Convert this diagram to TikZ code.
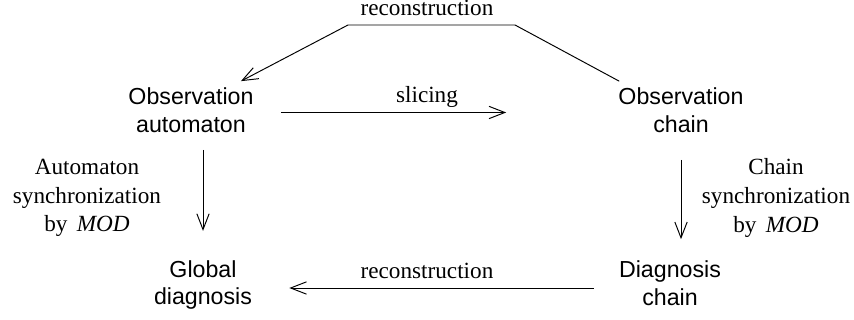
\documentclass[tikz,border=0pt]{standalone}
\usepackage{fontspec}
\setmainfont{Liberation Serif}
\setsansfont{Liberation Sans}
\usetikzlibrary{arrows.meta}

\begin{document}
\begin{tikzpicture}[x=0.02cm,y=-0.02cm,>={Straight Barb[length=9pt,width=7pt]},box/.style={align=center,font=\sffamily\fontsize{13.2pt}{15.9pt}\selectfont},lbl/.style={align=center,font=\rmfamily\fontsize{13.2pt}{16.3pt}\selectfont},line width=0.55pt]
\useasboundingbox (0,0) rectangle (854,320);
\node[box] (obsaut) at (191,110) {Observation\\automaton};
\node[box] (obschain) at (681,110) {Observation\\chain};
\node[box] (globdiag) at (203,285) {Global\\diagnosis};
\node[box] (diagchain) at (670,283) {Diagnosis\\chain};
\node[lbl] (autsync) at (87,198) {Automaton\\synchronization\\by\hspace{0.4em}\textit{MOD}};
\node[lbl] (chainsync) at (776,198) {Chain\\synchronization\\by\hspace{0.4em}\textit{MOD}};
\node[lbl,anchor=base] (toprec) at (427,16) {reconstruction};
\node[lbl,anchor=base] (slice) at (427,103) {slicing};
\node[lbl,anchor=base] (botrec) at (427,278) {reconstruction};
\coordinate (rr) at (515,25);
\coordinate (rl) at (348,25);
\draw[->] (obschain.155) -- (rr) -- (rl) -- (obsaut.30);
\draw[->,shorten <=0.42cm,shorten >=2.12cm] ([yshift=-0.05cm]obsaut.east) -- ([yshift=-0.05cm]obschain.west);
\draw[->,shorten <=0.22cm,shorten >=0.46cm] (globdiag.north |- obsaut.south) -- (globdiag.north);
\draw[->,shorten <=0.42cm,shorten >=0.3cm] (obschain.south) -- (obschain.south |- diagchain.north);
\draw[->,shorten <=0.38cm,shorten >=0.62cm] ([yshift=-0.1cm]diagchain.west) -- ([yshift=-0.1cm]diagchain.west -| globdiag.east);
\end{tikzpicture}
\end{document}
